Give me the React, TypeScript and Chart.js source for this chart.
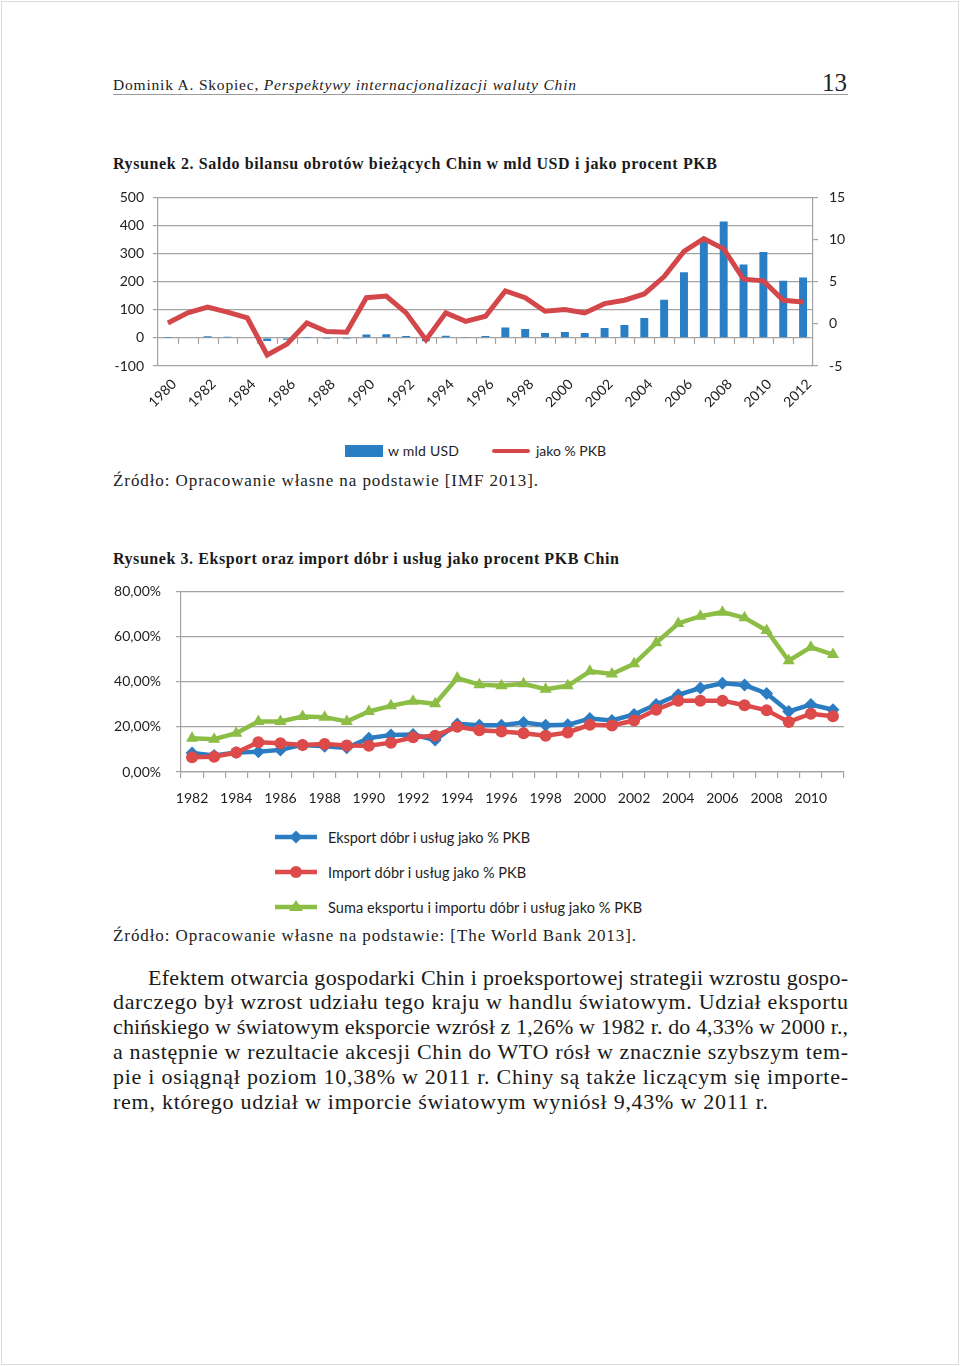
import React, { useEffect, useRef } from 'react';
import { Chart, registerables } from 'chart.js';

Chart.register(...registerables);

// ---------- Rysunek 2 data ----------
const years1 = ['1980','1981','1982','1983','1984','1985','1986','1987','1988','1989','1990','1991','1992','1993','1994','1995','1996','1997','1998','1999','2000','2001','2002','2003','2004','2005','2006','2007','2008','2009','2010','2011','2012'];
const balanceUSD = [0.3, 2, 5.7, 4.2, 2, -11.4, -7, 0.3, -3.8, -4.3, 12, 13.3, 6.4, -11.6, 7.7, 1.6, 7.2, 37, 31.5, 17, 21, 17, 35, 46, 71, 136, 234, 351, 414, 261, 306, 203, 215];
const balancePct = [0.1, 1.3, 2.0, 1.4, 0.7, -3.7, -2.4, 0.1, -0.9, -1.0, 3.1, 3.3, 1.3, -1.9, 1.3, 0.3, 0.9, 3.9, 3.1, 1.5, 1.7, 1.3, 2.4, 2.8, 3.55, 5.6, 8.6, 10.1, 8.9, 5.3, 5.1, 2.8, 2.6];

// ---------- Rysunek 3 data ----------
const years2 = ['1982','1983','1984','1985','1986','1987','1988','1989','1990','1991','1992','1993','1994','1995','1996','1997','1998','1999','2000','2001','2002','2003','2004','2005','2006','2007','2008','2009','2010','2011'];
const exportPct = [8.4, 7.3, 8.6, 9.0, 9.8, 12.0, 11.4, 10.7, 15.0, 16.4, 16.6, 14.2, 21.3, 20.7, 20.7, 21.9, 20.7, 20.9, 23.7, 22.8, 25.5, 29.9, 34.2, 37.2, 39.3, 38.5, 34.8, 26.8, 29.9, 27.6];
const importPct = [6.5, 6.8, 8.6, 13.2, 12.7, 12.0, 12.4, 11.7, 11.6, 13.0, 15.4, 16.1, 20.0, 18.5, 17.9, 17.2, 16.1, 17.5, 20.9, 20.6, 22.8, 27.6, 31.6, 31.6, 31.6, 29.6, 27.3, 22.2, 25.8, 24.7];
const sumPct = [15.0, 14.5, 17.2, 22.4, 22.4, 24.6, 24.3, 22.4, 26.8, 29.3, 31.3, 30.2, 41.6, 38.7, 38.2, 39.1, 36.7, 38.2, 44.6, 43.4, 47.9, 57.2, 65.8, 69.0, 70.8, 68.3, 62.7, 49.3, 55.3, 52.0];

const BLUE1 = '#2a7ec3';
const RED1 = '#d3474a';
const BLUE2 = '#2b7cc1';
const RED2 = '#dc4a49';
const GREEN2 = '#8cbd44';
const GRID = '#a3a3a3';
const TICK = '#1e1e1e';
const SANS = 'Lato';
const SERIF = 'Liberation Serif';

const zeroTicks = {
  id: 'zeroTicks',
  beforeDatasetsDraw(chart: any) {
    const xs = chart.scales.x;
    const ys = chart.scales.y;
    if (!xs || !ys) return;
    const y0 = ys.getPixelForValue(0);
    const ctx = chart.ctx;
    ctx.save();
    ctx.strokeStyle = GRID;
    ctx.lineWidth = 1.2;
    const n = chart.data.labels.length;
    for (let i = 1; i < n; i++) {
      const px = Math.round((xs.getPixelForValue(i - 1) + xs.getPixelForValue(i)) / 2) + 0.5;
      ctx.beginPath();
      ctx.moveTo(px, y0);
      ctx.lineTo(px, y0 + 6);
      ctx.stroke();
    }
    ctx.restore();
  },
};

export default function App() {
  const c1 = useRef<HTMLCanvasElement>(null);
  const c2 = useRef<HTMLCanvasElement>(null);

  useEffect(() => {
    const ch1 = new Chart(c1.current as HTMLCanvasElement, {
      type: 'bar',
      data: {
        labels: years1,
        datasets: [
          {
            type: 'line',
            label: 'jako % PKB',
            data: balancePct,
            yAxisID: 'y2',
            borderColor: RED1,
            backgroundColor: RED1,
            borderWidth: 5,
            pointRadius: 0,
            tension: 0,
            order: 0,
          } as any,
          {
            type: 'bar',
            label: 'w mld USD',
            data: balanceUSD,
            yAxisID: 'y',
            backgroundColor: BLUE1,
            barPercentage: 0.5,
            categoryPercentage: 0.8,
            order: 1,
          },
        ],
      },
      options: {
        responsive: false,
        animation: false,
        devicePixelRatio: 1,
        layout: { padding: 0 },
        plugins: { legend: { display: false }, tooltip: { enabled: false } },
        scales: {
          x: {
            grid: { display: false },
            border: { display: false },
            ticks: {
              autoSkip: false,
              minRotation: 45,
              maxRotation: 45,
              color: TICK,
              font: { family: SANS, size: 14 },
              padding: 2,
              labelOffset: 6,
              callback: (_v: any, i: number) => (i % 2 === 0 ? years1[i] : ''),
            },
            afterFit: (axis: any) => { axis.height = 54; },
          },
          y: {
            position: 'left',
            min: -100,
            max: 500,
            ticks: { stepSize: 100, color: TICK, font: { family: SANS, size: 14 }, padding: 9 },
            grid: { color: GRID, lineWidth: 1.2, tickLength: 5 },
            border: { display: true, color: GRID, width: 1.2 },
            afterFit: (axis: any) => { axis.width = 58; },
          },
          y2: {
            position: 'right',
            min: -5,
            max: 15,
            ticks: { stepSize: 5, color: TICK, font: { family: SANS, size: 14 }, padding: 11 },
            grid: { drawOnChartArea: false, color: GRID, lineWidth: 1.2, tickLength: 5 },
            border: { display: true, color: GRID, width: 1.2 },
            afterFit: (axis: any) => { axis.width = 57; },
          },
        },
      } as any,
      plugins: [zeroTicks],
    });

    const ch2 = new Chart(c2.current as HTMLCanvasElement, {
      type: 'line',
      data: {
        labels: years2,
        datasets: [
          {
            label: 'Eksport dóbr i usług jako % PKB',
            data: exportPct,
            borderColor: BLUE2,
            backgroundColor: BLUE2,
            borderWidth: 4.5,
            pointStyle: 'rectRot',
            pointRadius: 6.5,
            pointBorderWidth: 0,
            tension: 0,
            order: 1,
          },
          {
            label: 'Import dóbr i usług jako % PKB',
            data: importPct,
            borderColor: RED2,
            backgroundColor: RED2,
            borderWidth: 4.5,
            pointStyle: 'circle',
            pointRadius: 6,
            pointBorderWidth: 0,
            tension: 0,
            order: 0,
          },
          {
            label: 'Suma eksportu i importu dóbr i usług jako % PKB',
            data: sumPct,
            borderColor: GREEN2,
            backgroundColor: GREEN2,
            borderWidth: 4.5,
            pointStyle: 'triangle',
            pointRadius: 7,
            pointBorderWidth: 0,
            tension: 0,
            order: 2,
          },
        ],
      },
      options: {
        responsive: false,
        animation: false,
        devicePixelRatio: 1,
        layout: { padding: { top: 0, right: 26, left: 0, bottom: 0 } },
        plugins: { legend: { display: false }, tooltip: { enabled: false } },
        scales: {
          x: {
            offset: true,
            grid: { drawOnChartArea: false, offset: true, color: GRID, lineWidth: 1.2, tickLength: 6 },
            border: { display: true, color: GRID, width: 1.2 },
            ticks: {
              autoSkip: false,
              maxRotation: 0,
              minRotation: 0,
              color: TICK,
              font: { family: SANS, size: 14 },
              padding: 12,
              callback: (_v: any, i: number) => (i % 2 === 0 ? years2[i] : ''),
            },
            afterFit: (axis: any) => { axis.height = 43; },
          },
          y: {
            min: 0,
            max: 80,
            ticks: {
              stepSize: 20,
              color: TICK,
              font: { family: SANS, size: 14 },
              padding: 15,
              callback: (v: any) => Number(v).toFixed(2).replace('.', ',') + '%',
            },
            grid: { color: GRID, lineWidth: 1.2, tickLength: 5 },
            border: { display: true, color: GRID, width: 1.2 },
            afterFit: (axis: any) => { axis.width = 81; },
          },
        },
      } as any,
    });

    return () => {
      ch1.destroy();
      ch2.destroy();
    };
  }, []);

  const para = [
    { x: 148, y: 985, w: 700, t: 'Efektem otwarcia gospodarki Chin i proeksportowej strategii wzrostu gospo-' },
    { x: 113, y: 1009, w: 735, t: 'darczego był wzrost udziału tego kraju w handlu światowym. Udział eksportu' },
    { x: 113, y: 1034, w: 735, t: 'chińskiego w światowym eksporcie wzrósł z 1,26% w 1982 r. do 4,33% w 2000 r.,' },
    { x: 113, y: 1059, w: 735, t: 'a następnie w rezultacie akcesji Chin do WTO rósł w znacznie szybszym tem-' },
    { x: 113, y: 1084, w: 735, t: 'pie i osiągnął poziom 10,38% w 2011 r. Chiny są także liczącym się importe-' },
    { x: 113, y: 1109, w: 655, t: 'rem, którego udział w imporcie światowym wyniósł 9,43% w 2011 r.' },
  ];

  return (
    <div style={{ position: 'absolute', left: 0, top: 0, width: 960, height: 1366, background: '#fff', overflow: 'hidden' }}>
      <div style={{ position: 'absolute', left: 1, top: 1, width: 956, height: 1362, border: '1px solid #dcdcdc' }} />
      <svg width={960} height={1366} style={{ position: 'absolute', left: 0, top: 0 }}>
        <text x={113} y={90} fontFamily={SERIF} fontSize={15.5} fill="#222" textLength={463} lengthAdjust="spacing">
          {'Dominik A. Skopiec, '}
          <tspan fontStyle="italic">Perspektywy internacjonalizacji waluty Chin</tspan>
        </text>
        <text x={847} y={91} fontFamily={SERIF} fontSize={25} fill="#222" textAnchor="end">13</text>
        <line x1={113} x2={848} y1={94.5} y2={94.5} stroke="#9a9a9a" strokeWidth={1} />

        <text x={113} y={169} fontFamily={SERIF} fontSize={16} fontWeight="bold" fill="#1a1a1a" textLength={604} lengthAdjust="spacing">
          Rysunek 2. Saldo bilansu obrotów bieżących Chin w mld USD i jako procent PKB
        </text>

        <rect x={345} y={445} width={38} height={12} fill={BLUE1} />
        <text x={388} y={456} fontFamily={SANS} fontSize={14} fill={TICK} textLength={71} lengthAdjust="spacing">w mld USD</text>
        <rect x={492} y={449} width={38} height={4} rx={2} fill={RED1} />
        <text x={536} y={456} fontFamily={SANS} fontSize={14} fill={TICK} textLength={70} lengthAdjust="spacing">jako % PKB</text>

        <text x={113} y={486} fontFamily={SERIF} fontSize={17} fill="#222" textLength={425} lengthAdjust="spacing">
          Źródło: Opracowanie własne na podstawie [IMF 2013].
        </text>

        <text x={113} y={564} fontFamily={SERIF} fontSize={16} fontWeight="bold" fill="#1a1a1a" textLength={506} lengthAdjust="spacing">
          Rysunek 3. Eksport oraz import dóbr i usług jako procent PKB Chin
        </text>

        <line x1={275} x2={317} y1={837} y2={837} stroke={BLUE2} strokeWidth={4.5} />
        <polygon points="296,830.5 302.5,837 296,843.5 289.5,837" fill={BLUE2} />
        <text x={328} y={843} fontFamily={SANS} fontSize={14.5} fill={TICK} textLength={202} lengthAdjust="spacing">Eksport dóbr i usług jako % PKB</text>

        <line x1={275} x2={317} y1={872} y2={872} stroke={RED2} strokeWidth={4.5} />
        <circle cx={296} cy={872} r={6} fill={RED2} />
        <text x={328} y={878} fontFamily={SANS} fontSize={14.5} fill={TICK} textLength={198} lengthAdjust="spacing">Import dóbr i usług jako % PKB</text>

        <line x1={275} x2={317} y1={907} y2={907} stroke={GREEN2} strokeWidth={4.5} />
        <polygon points="296,900 303,911 289,911" fill={GREEN2} />
        <text x={328} y={913} fontFamily={SANS} fontSize={14.5} fill={TICK} textLength={314} lengthAdjust="spacing">Suma eksportu i importu dóbr i usług jako % PKB</text>

        <text x={113} y={941} fontFamily={SERIF} fontSize={17} fill="#222" textLength={523} lengthAdjust="spacing">
          Źródło: Opracowanie własne na podstawie: [The World Bank 2013].
        </text>

        {para.map((p, i) => (
          <text key={i} x={p.x} y={p.y} fontFamily={SERIF} fontSize={22} fill="#1a1a1a" textLength={p.w} lengthAdjust="spacing">
            {p.t}
          </text>
        ))}
      </svg>
      <canvas ref={c1} width={770} height={242} style={{ position: 'absolute', left: 100, top: 178 }} />
      <canvas ref={c2} width={770} height={247} style={{ position: 'absolute', left: 100, top: 568 }} />
    </div>
  );
}
